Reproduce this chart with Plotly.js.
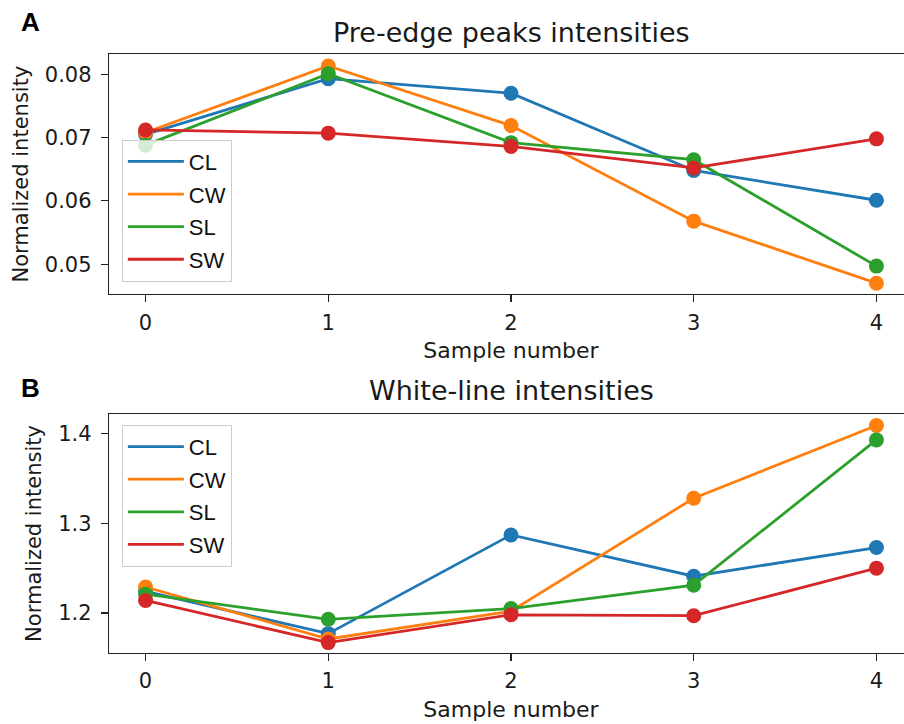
<!DOCTYPE html>
<html>
<head>
<meta charset="utf-8">
<script src="https://cdn.plot.ly/plotly-3.0.1.min.js"></script>
<style>html,body{margin:0;padding:0;overflow:hidden;background:#fff}</style>
</head>
<body>
<div id="chart"></div>
<script>
const samples = [0, 1, 2, 3, 4];
const seriesNames = ['CL', 'CW', 'SL', 'SW'];
const colors = ['#1f77b4', '#ff7f0e', '#2ca02c', '#d62728'];

// Pre-edge peaks intensities
const preCL = [0.0705, 0.0793, 0.0770, 0.0648, 0.0601];
const preCW = [0.0708, 0.0813, 0.0719, 0.0568, 0.0470];
const preSL = [0.0688, 0.0801, 0.0692, 0.0665, 0.0497];
const preSW = [0.0712, 0.0707, 0.0686, 0.0652, 0.0698];

// White-line intensities
const wlCL = [1.224, 1.177, 1.287, 1.241, 1.273];
const wlCW = [1.229, 1.171, 1.202, 1.328, 1.409];
const wlSL = [1.221, 1.193, 1.205, 1.231, 1.393];
const wlSW = [1.214, 1.167, 1.198, 1.197, 1.250];

const preSeries = [preCL, preCW, preSL, preSW];
const wlSeries = [wlCL, wlCW, wlSL, wlSW];

const tickFont = {family: 'DejaVu Sans', size: 21, color: '#1a1a1a'};
const labelFont = {family: 'DejaVu Sans', size: 22, color: '#1a1a1a'};
const traces = [];
function addSeries(vals, i, xa, ya, legendId) {
  traces.push({
    x: samples, y: vals, xaxis: xa, yaxis: ya, type: 'scatter', mode: 'lines',
    name: seriesNames[i], line: {color: colors[i], width: 2.8},
    legend: legendId, legendgroup: legendId + i, showlegend: true
  });
  traces.push({
    x: samples, y: vals, xaxis: xa, yaxis: ya, type: 'scatter', mode: 'markers',
    name: seriesNames[i], marker: {color: colors[i], size: 15},
    legend: legendId, showlegend: false
  });
}
preSeries.forEach((v, i) => addSeries(v, i, 'x', 'y', 'legend'));
wlSeries.forEach((v, i) => addSeries(v, i, 'x2', 'y2', 'legend2'));

const axisCommon = {
  showline: true, mirror: true, linecolor: '#222', linewidth: 1.2,
  ticks: 'outside', ticklen: 7, tickwidth: 1.2, tickcolor: '#222',
  showgrid: false, zeroline: false, tickfont: tickFont
};
const xCommon = Object.assign({}, axisCommon, {
  range: [-0.2, 4.2], tickvals: samples, ticktext: samples.map(String),
  ticklabelstandoff: 2,
  title: {text: 'Sample number', font: labelFont, standoff: 9}
});
const legendCommon = {
  bgcolor: 'rgba(255,255,255,0.8)', bordercolor: '#cccccc', borderwidth: 1,
  font: {family: 'Liberation Sans', size: 22, color: '#111'},
  xanchor: 'left', yanchor: 'top', tracegroupgap: 1, traceorder: 'grouped',
  itemwidth: 56
};

const layout = {
  width: 913, height: 724,
  margin: {l: 109, r: 0, t: 54, b: 71},
  paper_bgcolor: '#fff', plot_bgcolor: '#fff',
  xaxis: Object.assign({}, xCommon, {anchor: 'y'}),
  yaxis: Object.assign({}, axisCommon, {
    domain: [0.599, 1], anchor: 'x', range: [0.04526, 0.0832],
    tickvals: [0.05, 0.06, 0.07, 0.08], ticktext: ['0.05', '0.06', '0.07', '0.08'],
    ticklabelstandoff: 5,
    title: {text: 'Normalized intensity', font: tickFont, standoff: 10}
  }),
  xaxis2: Object.assign({}, xCommon, {anchor: 'y2'}),
  yaxis2: Object.assign({}, axisCommon, {
    domain: [0, 0.399], anchor: 'x2', range: [1.1554, 1.4219],
    tickvals: [1.2, 1.3, 1.4], ticktext: ['1.2', '1.3', '1.4'],
    ticklabelstandoff: 5,
    title: {text: 'Normalized intensity', font: tickFont, standoff: 10}
  }),
  legend: Object.assign({}, legendCommon, {x: 0.016, y: 0.857}),
  legend2: Object.assign({}, legendCommon, {x: 0.016, y: 0.381}),
  showlegend: true,
  annotations: [
    {text: 'Pre-edge peaks intensities', xref: 'paper', yref: 'paper', x: 0.5, y: 1.0367,
     xanchor: 'center', yanchor: 'middle', showarrow: false,
     font: {family: 'DejaVu Sans', size: 27, color: '#1a1a1a'}},
    {text: 'White-line intensities', xref: 'paper', yref: 'paper', x: 0.5, y: 0.439,
     xanchor: 'center', yanchor: 'middle', showarrow: false,
     font: {family: 'DejaVu Sans', size: 27, color: '#1a1a1a'}},
    {text: '<b>A</b>', xref: 'paper', yref: 'paper', x: -0.098, y: 1.0534,
     xanchor: 'center', yanchor: 'middle', showarrow: false,
     font: {family: 'Liberation Sans', size: 26, color: '#000'}},
    {text: '<b>B</b>', xref: 'paper', yref: 'paper', x: -0.098, y: 0.4424,
     xanchor: 'center', yanchor: 'middle', showarrow: false,
     font: {family: 'Liberation Sans', size: 26, color: '#000'}}
  ]
};

Plotly.newPlot('chart', traces, layout, {displayModeBar: false, staticPlot: true});
</script>
</body>
</html>
